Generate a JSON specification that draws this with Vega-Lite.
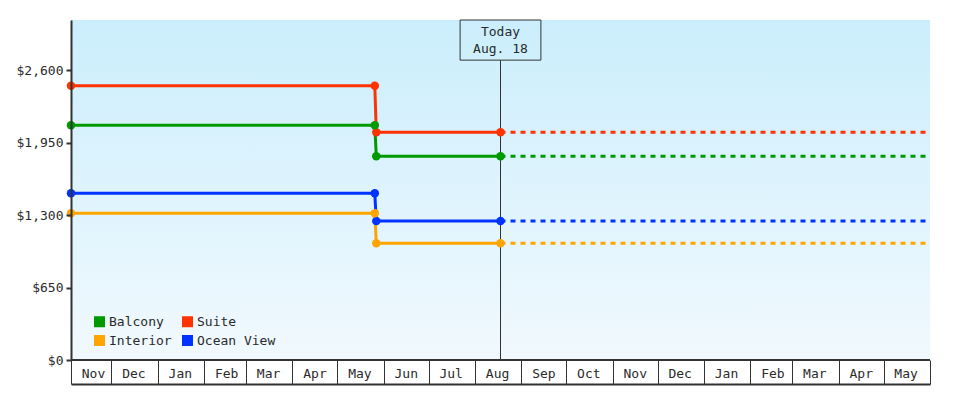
{
  "$schema": "https://vega.github.io/schema/vega-lite/v6.json",
  "width": 859,
  "height": 340,
  "autosize": {"type": "none"},
  "padding": {"left": 71, "top": 20, "right": 50, "bottom": 40},
  "background": "white",
  "config": {
    "view": {"stroke": null},
    "font": "DejaVu Sans Mono",
    "axis": {"labelFont": "DejaVu Sans Mono", "labelFontSize": 13, "labelColor": "#2a2a2a", "grid": false, "domainColor": "#333333", "domainWidth": 2, "tickColor": "#333333", "zindex": 1},
    "axisY": {"domainWidth": 2, "tickWidth": 2, "tickSize": 5},
    "axisX": {"domainWidth": 2, "tickWidth": 1},
    "legend": {"labelFont": "DejaVu Sans Mono", "labelFontSize": 13, "labelColor": "#2a2a2a"}
  },
  "datasets": {
    "prices": [
      {"date": "2020-11-04", "cabin": "Suite", "price": 2460, "seg": "actual"},
      {"date": "2021-05-26", "cabin": "Suite", "price": 2460, "seg": "actual"},
      {"date": "2021-05-27", "cabin": "Suite", "price": 2042, "seg": "actual"},
      {"date": "2021-08-18", "cabin": "Suite", "price": 2042, "seg": "actual"},
      {"date": "2021-08-18", "cabin": "Suite", "price": 2042, "seg": "forecast"},
      {"date": "2022-06-01", "cabin": "Suite", "price": 2042, "seg": "forecast"},
      {"date": "2020-11-04", "cabin": "Balcony", "price": 2105, "seg": "actual"},
      {"date": "2021-05-26", "cabin": "Balcony", "price": 2105, "seg": "actual"},
      {"date": "2021-05-27", "cabin": "Balcony", "price": 1827, "seg": "actual"},
      {"date": "2021-08-18", "cabin": "Balcony", "price": 1827, "seg": "actual"},
      {"date": "2021-08-18", "cabin": "Balcony", "price": 1827, "seg": "forecast"},
      {"date": "2022-06-01", "cabin": "Balcony", "price": 1827, "seg": "forecast"},
      {"date": "2020-11-04", "cabin": "Ocean View", "price": 1495, "seg": "actual"},
      {"date": "2021-05-26", "cabin": "Ocean View", "price": 1495, "seg": "actual"},
      {"date": "2021-05-27", "cabin": "Ocean View", "price": 1247, "seg": "actual"},
      {"date": "2021-08-18", "cabin": "Ocean View", "price": 1247, "seg": "actual"},
      {"date": "2021-08-18", "cabin": "Ocean View", "price": 1247, "seg": "forecast"},
      {"date": "2022-06-01", "cabin": "Ocean View", "price": 1247, "seg": "forecast"},
      {"date": "2020-11-04", "cabin": "Interior", "price": 1316, "seg": "actual"},
      {"date": "2021-05-26", "cabin": "Interior", "price": 1316, "seg": "actual"},
      {"date": "2021-05-27", "cabin": "Interior", "price": 1047, "seg": "actual"},
      {"date": "2021-08-18", "cabin": "Interior", "price": 1047, "seg": "actual"},
      {"date": "2021-08-18", "cabin": "Interior", "price": 1047, "seg": "forecast"},
      {"date": "2022-06-01", "cabin": "Interior", "price": 1047, "seg": "forecast"}
    ]
  },
  "data": {"name": "prices"},
  "layer": [
    {
      "data": {"values": [{}]},
      "mark": {"type": "rect", "fill": {"gradient": "linear", "x1": 0, "y1": 0, "x2": 0, "y2": 1, "stops": [{"offset": 0, "color": "#cbeefc"}, {"offset": 1, "color": "#f1f9fe"}]}},
      "encoding": {}
    },
    {
      "data": {"values": [{}]},
      "mark": {"type": "rule", "color": "#333333", "strokeWidth": 2},
      "encoding": {"y": {"datum": 0, "type": "quantitative", "title": null}}
    },
    {
      "data": {"values": [{}]},
      "mark": {"type": "rule", "color": "#333333", "strokeWidth": 1},
      "encoding": {
        "x": {"datum": {"year": 2021, "month": 8, "date": 18, "utc": true}, "type": "temporal", "title": null},
        "y": {"datum": 2690, "type": "quantitative", "title": null},
        "y2": {"datum": 0}
      }
    },
    {
      "transform": [{"filter": "datum.seg === 'actual'"}],
      "mark": {"type": "line", "strokeWidth": 3, "point": {"filled": true, "size": 72}},
      "encoding": {
        "x": {
          "field": "date", "type": "temporal", "title": null,
          "scale": {"type": "utc", "domain": [{"year": 2020, "month": 11, "date": 4, "utc": true}, {"year": 2022, "month": 6, "date": 1, "utc": true}]},
          "axis": {
            "title": null,
            "orient": "bottom",
            "offset": 24,
            "values": [
              {"year": 2020, "month": 11, "date": 4, "utc": true},
              {"year": 2020, "month": 12, "date": 1, "utc": true},
              {"year": 2021, "month": 1, "date": 1, "utc": true},
              {"year": 2021, "month": 2, "date": 1, "utc": true},
              {"year": 2021, "month": 3, "date": 1, "utc": true},
              {"year": 2021, "month": 4, "date": 1, "utc": true},
              {"year": 2021, "month": 5, "date": 1, "utc": true},
              {"year": 2021, "month": 6, "date": 1, "utc": true},
              {"year": 2021, "month": 7, "date": 1, "utc": true},
              {"year": 2021, "month": 8, "date": 1, "utc": true},
              {"year": 2021, "month": 9, "date": 1, "utc": true},
              {"year": 2021, "month": 10, "date": 1, "utc": true},
              {"year": 2021, "month": 11, "date": 1, "utc": true},
              {"year": 2021, "month": 12, "date": 1, "utc": true},
              {"year": 2022, "month": 1, "date": 1, "utc": true},
              {"year": 2022, "month": 2, "date": 1, "utc": true},
              {"year": 2022, "month": 3, "date": 1, "utc": true},
              {"year": 2022, "month": 4, "date": 1, "utc": true},
              {"year": 2022, "month": 5, "date": 1, "utc": true},
              {"year": 2022, "month": 6, "date": 1, "utc": true}
            ],
            "labelExpr": "datum.value >= 1654041600000 ? '' : utcFormat(datum.value, '%b')",
            "tickSize": -24,
            "tickWidth": 1,
            "tickColor": "#333333",
            "domainColor": "#333333",
            "domainWidth": 2,
            "labelOffset": 22,
            "labelAlign": "center",
            "labelBaseline": "middle",
            "labelPadding": 13,
            "labelFlush": false,
            "labelOverlap": false,
            "labelBound": false,
            "zindex": 1
          }
        },
        "y": {
          "field": "price", "type": "quantitative", "title": null,
          "scale": {"domain": [0, 3050], "nice": false, "zero": true},
          "axis": {
            "title": null,
            "values": [0, 650, 1300, 1950, 2600],
            "format": "$,.0f",
            "tickSize": 5,
            "tickWidth": 2,
            "tickColor": "#333333",
            "domainColor": "#333333",
            "domainWidth": 2,
            "labelPadding": 3,
            "labelBaseline": "middle",
            "zindex": 1
          }
        },
        "color": {
          "field": "cabin", "type": "nominal",
          "scale": {"domain": ["Balcony", "Interior", "Suite", "Ocean View"], "range": ["#009900", "#ffa500", "#ff3300", "#0033ff"]},
          "legend": {
            "title": null,
            "orient": "none",
            "legendX": 22,
            "legendY": 295,
            "columns": 2,
            "symbolType": "square",
            "symbolSize": 121,
            "symbolStrokeWidth": 0,
            "labelOffset": 3,
            "columnPadding": 9,
            "rowPadding": 5,
            "padding": 0,
            "encode": {"symbols": {"update": {"fill": {"scale": "color", "field": "value"}, "strokeWidth": {"value": 0}}}}
          }
        }
      }
    },
    {
      "transform": [{"filter": "datum.seg === 'forecast'"}],
      "mark": {"type": "line", "strokeWidth": 3, "strokeDash": [5, 5]},
      "encoding": {
        "x": {"field": "date", "type": "temporal", "title": null},
        "y": {"field": "price", "type": "quantitative", "title": null},
        "color": {"field": "cabin", "type": "nominal"}
      }
    },
    {
      "data": {"values": [{}]},
      "mark": {"type": "rect", "fill": "transparent", "stroke": "#333333", "strokeWidth": 1},
      "encoding": {
        "x": {"datum": {"year": 2021, "month": 7, "date": 22, "utc": true}, "type": "temporal", "title": null},
        "x2": {"datum": {"year": 2021, "month": 9, "date": 14, "utc": true}},
        "y": {"datum": 3050, "type": "quantitative", "title": null},
        "y2": {"datum": 2690}
      }
    },
    {
      "data": {"values": [{}]},
      "mark": {"type": "text", "font": "DejaVu Sans Mono", "fontSize": 13, "color": "#2a2a2a", "align": "center", "baseline": "middle", "lineHeight": 17, "text": ["Today", "Aug. 18"]},
      "encoding": {
        "x": {"datum": {"year": 2021, "month": 8, "date": 18, "utc": true}, "type": "temporal", "title": null},
        "y": {"datum": 2942, "type": "quantitative", "title": null}
      }
    }
  ]
}
